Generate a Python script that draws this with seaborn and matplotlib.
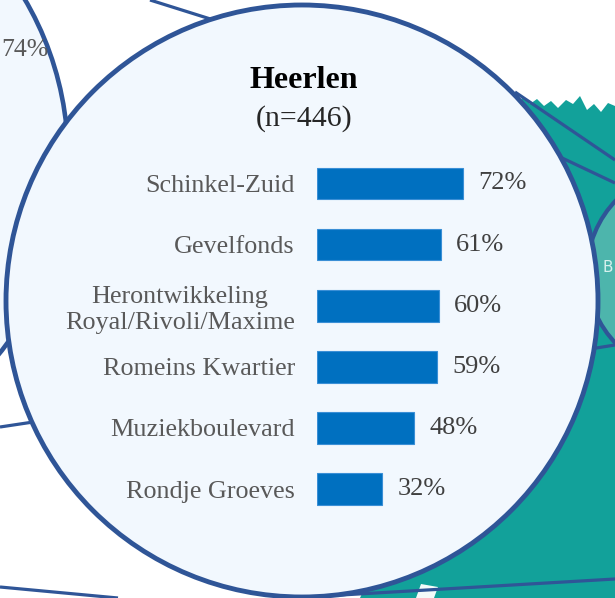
import matplotlib
matplotlib.use("Agg")
import matplotlib.pyplot as plt
import seaborn as sns
import pandas as pd
from matplotlib.patches import Circle, Polygon

# data
projects = ["Schinkel-Zuid", "Gevelfonds", "Herontwikkeling\nRoyal/Rivoli/Maxime",
            "Romeins Kwartier", "Muziekboulevard", "Rondje Groeves"]
shares = [72, 61, 60, 59, 48, 32]
city = "Heerlen"
n_resp = 446
neighbour_share = "74%"

df = pd.DataFrame({"project": projects, "share": shares})

sns.set_theme(style="white")
plt.rcParams["font.family"] = ["Liberation Serif", "DejaVu Serif"]

BLUE_EDGE = "#2F5597"
FILL = "#F2F8FE"
TEAL = "#12A19A"

fig = plt.figure(figsize=(6.15, 5.98), dpi=100)

# background decoration in pixel coordinates
bg = fig.add_axes([0, 0, 1, 1])
bg.set_xlim(0, 615)
bg.set_ylim(598, 0)
bg.axis("off")

teal_pts = [(522, 97), (530, 104), (537, 99), (544, 106), (551, 101), (558, 108),
            (566, 100), (573, 104), (580, 96), (587, 110), (594, 104), (601, 112),
            (608, 103), (615, 106), (615, 598), (360, 598), (450, 400)]
bg.add_patch(Polygon(teal_pts, closed=True, fc=TEAL, ec="none", zorder=1))
bg.add_patch(Polygon([(421, 584), (438, 587), (434, 598), (416, 598)], closed=True,
                     fc="#F4FBFA", ec="none", zorder=1.5))
bg.add_patch(Circle((690, 272), 103, fc="#4DB5AC", ec=BLUE_EDGE, lw=3, zorder=2))
bg.text(603, 268, "B", color="#D8F1EE", fontsize=11, va="center", ha="left",
        family="DejaVu Sans", zorder=2.5)

for (x0, y0), (x1, y1) in [((150, 0), (220, 22)), ((515, 92), (615, 160)),
                           ((560, 157), (615, 183)), ((590, 349), (615, 345)),
                           ((0, 427), (40, 421)), ((0, 587), (118, 598)),
                           ((290, 598), (615, 579))]:
    bg.plot([x0, x1], [y0, y1], color=BLUE_EDGE, lw=2.3, zorder=3,
            solid_capstyle="butt")

bg.add_patch(Circle((-245, 158), 313, fc=FILL, ec=BLUE_EDGE, lw=3.3, zorder=4))
bg.text(1, 50, neighbour_share, color="#595959", fontsize=18.5, ha="left",
        va="center", zorder=4.5)

bg.add_patch(Circle((302, 301), 296, fc=FILL, ec=BLUE_EDGE, lw=3.5, zorder=5))

bg.text(304, 81, city, fontsize=23, fontweight="bold", color="black",
        ha="center", va="center", zorder=6)
bg.text(304, 119, f"(n={n_resp})", fontsize=21.5, color="#262626",
        ha="center", va="center", zorder=6)

# bar chart
ax = fig.add_axes([317 / 615, 1 - 519.6 / 598, 203 / 615, 366.7 / 598])
ax.patch.set_alpha(0)
sns.barplot(data=df, x="share", y="project", orient="h", color="#0070C0",
            width=0.52, saturation=1, edgecolor="#3A8FD6", linewidth=0.8, ax=ax)
ax.set_xlim(0, 100)
ax.set_ylim(5.5, -0.5)
ax.set_xlabel("")
ax.set_ylabel("")
ax.set_xticks([])
for s in ax.spines.values():
    s.set_visible(False)
ax.tick_params(axis="y", length=0, pad=16, labelsize=18.8, labelcolor="#595959")
for lab in ax.get_yticklabels():
    lab.set_multialignment("center")
ax.bar_label(ax.containers[0], labels=[f"{v}%" for v in shares], padding=11,
             fontsize=19, color="#404040")

fig.savefig("out.png", dpi=100)
